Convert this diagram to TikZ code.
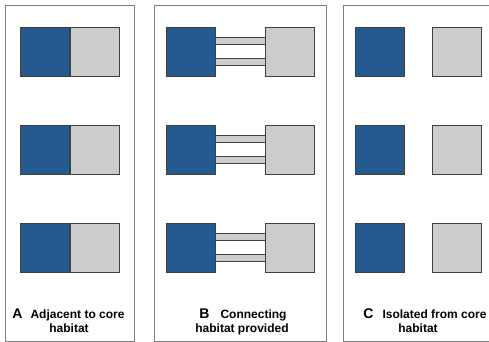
\documentclass[tikz,border=0pt]{standalone}
\usepackage{fontspec}
\setmainfont{Liberation Sans}
\definecolor{coreblue}{RGB}{37,90,142}
\definecolor{habgray}{RGB}{204,204,204}
\definecolor{edgedark}{RGB}{64,64,64}
\definecolor{panelgray}{RGB}{128,128,128}
\begin{document}
\begin{tikzpicture}[x=1pt,y=-1pt,
  panel/.style={draw=panelgray,line width=1pt,fill=white},
  core/.style={draw=edgedark,line width=0.8pt,fill=coreblue,minimum width=49pt,minimum height=49pt,inner sep=0pt,outer sep=0pt},
  hab/.style={draw=edgedark,line width=0.8pt,fill=habgray,minimum width=49pt,minimum height=49pt,inner sep=0pt,outer sep=0pt},
  bar/.style={draw=edgedark,line width=0.8pt,double=habgray,double distance=5.5pt},
  lbl/.style={font=\bfseries\fontsize{12}{14}\selectfont,inner sep=0pt,anchor=base}]
\useasboundingbox (0,0) rectangle (489,342);
\fill[white] (0,0) rectangle (489,342);
% panels
\draw[panel] (5,6) rectangle (134,341);
\draw[panel] (154,6) rectangle (326,341);
\draw[panel] (343,6) rectangle (495,341);
% Panel A
\foreach \r/\y in {1/51.5,2/149.5,3/247.5}{
  \node[core] (a\r c) at (44.5,\y) {};
  \node[hab] (a\r h) at (94.5,\y) {};
}
% Panel B
\foreach \r/\y in {1/51.5,2/149.5,3/247.5}{
  \node[core] (b\r c) at (191,\y) {};
  \node[hab] (b\r h) at (289.5,\y) {};
  \draw[bar] ([yshift=-10.5pt]b\r c.east) -- ([yshift=-10.5pt]b\r h.west);
  \draw[bar] ([yshift=10.5pt]b\r c.east) -- ([yshift=10.5pt]b\r h.west);
}
% Panel C
\foreach \r/\y in {1/51.5,2/149.5,3/247.5}{
  \node[core] (c\r c) at (380,\y) {};
  \node[hab] (c\r h) at (457,\y) {};
}
% labels
\node[lbl] (la1) at (68.5,318) {{\fontsize{14}{17}\selectfont A}\hspace{8pt}Adjacent to core};
\node[lbl] (la2) at (69,332.7) {habitat};
\node[lbl] (lb1) at (243,318) {{\fontsize{14}{17}\selectfont B}\hspace{11pt}Connecting};
\node[lbl] (lb2) at (242,332.7) {habitat provided};
\node[lbl] (lc1) at (425,318) {{\fontsize{14}{17}\selectfont C}\hspace{9pt}Isolated from core};
\node[lbl] (lc2) at (418,332.7) {habitat};
\end{tikzpicture}
\end{document}
